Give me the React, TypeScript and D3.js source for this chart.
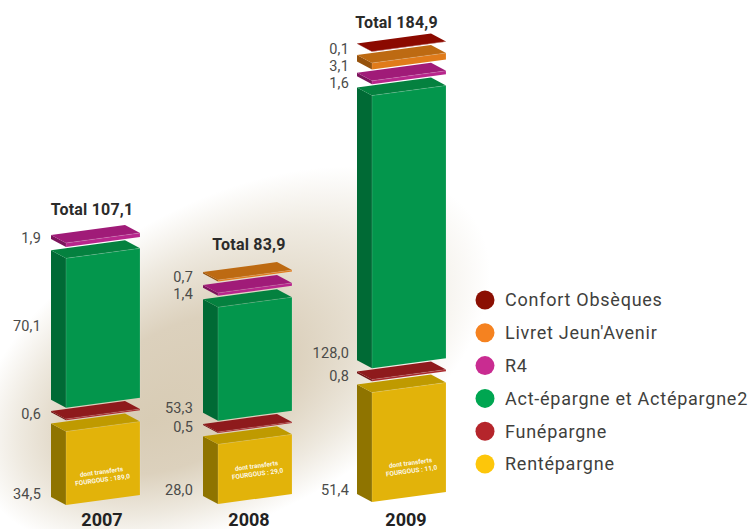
import React, { useRef, useEffect } from 'react';
import * as d3 from 'd3';

const years = ['2007', '2008', '2009'];
const totals = [107.1, 83.9, 184.9];
const transfers = [189.0, 29.0, 11.0];

// bottom to top, null when the product has no slab that year
const rentepargne = [34.5, 28.0, 51.4];
const funepargne = [0.6, 0.5, 0.8];
const actEpargne = [70.1, 53.3, 128.0];
const r4 = [1.9, 1.4, 1.6];
const livret = [null, 0.7, 3.1];
const confort = [null, null, 0.1];

const seriesNames = ['Rentépargne', 'Funépargne', 'Act-épargne et Actépargne2', 'R4', "Livret Jeun'Avenir", 'Confort Obsèques'];
const seriesValues = [rentepargne, funepargne, actEpargne, r4, livret, confort];

const frontColors = ['#e2b30a', '#a8282c', '#03964c', '#b8268c', '#e07b1a', '#8b0f02'];
const topColors = ['#bf9a00', '#8e1a1c', '#04813f', '#a01b78', '#bd6a12', '#8b0a00'];
const sideColors = ['#8f7400', '#6f1214', '#006a35', '#7c145c', '#96520c', '#6e0800'];
const legendColors = ['#fdc60a', '#b5252b', '#00a651', '#c92c91', '#f58220', '#8b0f02'];

// nudges of the text, per series then per year
const labelShift = [
  [-7, -10, -8],
  [-2, -2, -1],
  [-77, -8, -11],
  [-5, 2, 3],
  [0, 0, 1],
  [0, 0, 2],
];
const labelGap = [10, 10, 8];
const totalShiftY = [-16, -18, -11];
const totalShiftX = [-11, -6, -12.5];
const yearShiftX = [-1, -6, -3];
const noteLift = [29, 34, 35];
const noteShiftX = [-1, 2, 2];

const App = () => {
  const svgRef = useRef<SVGSVGElement>(null);

  useEffect(() => {
    const svg = d3.select(svgRef.current);
    svg.selectAll('*').remove();

    const font = 'Roboto, sans-serif';
    const depthX = 15;
    const depthY = 8;
    const frontW = 74;
    const rise = 10;
    const gap = 11.3;

    const left = d3.scaleOrdinal<string, number>().domain(years).range([51, 203, 357]);
    const base = d3.scaleOrdinal<string, number>().domain(years).range([505, 504, 502]);
    const h = d3.scaleLinear().domain([0, 100]).range([0, 213]);

    const defs = svg.append('defs');
    const grad = defs.append('radialGradient')
      .attr('id', 'glow')
      .attr('fx', 0.32)
      .attr('fy', 0.55);
    grad.append('stop').attr('offset', '0%').attr('stop-color', '#d8ccb5');
    grad.append('stop').attr('offset', '42%').attr('stop-color', '#dcd1bd');
    grad.append('stop').attr('offset', '74%').attr('stop-color', '#eee9df');
    grad.append('stop').attr('offset', '100%').attr('stop-color', '#ffffff');

    svg.append('ellipse')
      .attr('cx', 0).attr('cy', 0)
      .attr('rx', 280).attr('ry', 158)
      .attr('transform', 'translate(232,358) rotate(-28)')
      .attr('fill', 'url(#glow)');

    const line = d3.line();

    years.forEach((year, yi) => {
      const x0 = left(year);
      const xf = x0 + depthX;
      const xr = xf + frontW;
      const g = svg.append('g');

      let y = base(year); // front-left bottom corner
      let lastTop = y;

      seriesValues.forEach((values, si) => {
        const v = values[yi];
        if (v == null) return;
        const t = h(v);
        const yb = y;
        const yt = y - t;

        // left side
        g.append('path')
          .attr('d', line([[x0, yb - depthY], [xf, yb], [xf, yt], [x0, yt - depthY]]) + 'Z')
          .attr('fill', sideColors[si]);
        // front
        g.append('path')
          .attr('d', line([[xf, yb], [xr, yb - rise], [xr, yt - rise], [xf, yt]]) + 'Z')
          .attr('fill', frontColors[si]);
        // top
        g.append('path')
          .attr('d', line([[x0, yt - depthY], [xf, yt], [xr, yt - rise], [xr - depthX, yt - rise - depthY]]) + 'Z')
          .attr('fill', topColors[si]);
        // light edge where the faces meet
        g.append('path')
          .attr('d', line([[xf, yb], [xf, yt], [xr, yt - rise], [xr, yb - rise]]))
          .attr('fill', 'none')
          .attr('stroke', '#ffffff')
          .attr('stroke-opacity', 0.22)
          .attr('stroke-width', 0.7);

        g.append('text')
          .attr('x', x0 - labelGap[yi])
          .attr('y', yb - depthY + 3.5 + labelShift[si][yi])
          .attr('dy', '0.36em')
          .attr('text-anchor', 'end')
          .attr('font-family', font)
          .attr('font-size', 14.5)
          .attr('letter-spacing', 0.2)
          .attr('fill', '#4b4b49')
          .text(v.toFixed(1).replace('.', ','));

        lastTop = yt;
        y = yt - gap;
      });

      // white note on the front face of the first box
      const noteX = xf + frontW / 2 + noteShiftX[yi];
      const noteY = base(year) - noteLift[yi];
      const note = g.append('g')
        .attr('transform', `translate(${noteX},${noteY}) rotate(-7.7)`)
        .attr('font-family', font)
        .attr('font-weight', 700)
        .attr('font-size', 6.5)
        .attr('text-anchor', 'middle')
        .attr('fill', '#ffffff')
        .attr('fill-opacity', 0.92);
      note.append('text').attr('y', -2).text('dont transferts');
      note.append('text').attr('y', 6).text(`FOURGOUS : ${transfers[yi].toFixed(1).replace('.', ',')}`);

      g.append('text')
        .attr('x', xf + frontW / 2 + totalShiftX[yi])
        .attr('y', lastTop - rise - depthY + totalShiftY[yi])
        .attr('dy', '0.36em')
        .attr('text-anchor', 'middle')
        .attr('font-family', font)
        .attr('font-weight', 700)
        .attr('font-size', 16)
        .attr('letter-spacing', 0.2)
        .attr('fill', '#2b2b2a')
        .text(`Total ${totals[yi].toFixed(1).replace('.', ',')}`);

      g.append('text')
        .attr('x', xf + frontW / 2 + yearShiftX[yi])
        .attr('y', 520)
        .attr('dy', '0.36em')
        .attr('text-anchor', 'middle')
        .attr('font-family', font)
        .attr('font-weight', 700)
        .attr('font-size', 18)
        .attr('fill', '#222222')
        .text(year);
    });

    // legend, listed from the top of the stack down
    const legendY = d3.scalePoint<number>()
      .domain(d3.range(6))
      .range([300, 464]);
    const legendOrder = d3.range(5, -1, -1);

    const legend = svg.append('g');
    legendOrder.forEach((si, i) => {
      legend.append('circle')
        .attr('cx', 485)
        .attr('cy', legendY(i))
        .attr('r', 9.5)
        .attr('fill', legendColors[si]);
      legend.append('text')
        .attr('x', 505)
        .attr('y', legendY(i))
        .attr('dy', '0.36em')
        .attr('font-family', font)
        .attr('font-size', 18)
        .attr('letter-spacing', 0.75)
        .attr('fill', '#3f3f3d')
        .text(seriesNames[si]);
    });
  }, []);

  return <svg ref={svgRef} width={754} height={529} style={{ position: 'absolute', left: 0, top: 0 }}></svg>;
};

export default App;
